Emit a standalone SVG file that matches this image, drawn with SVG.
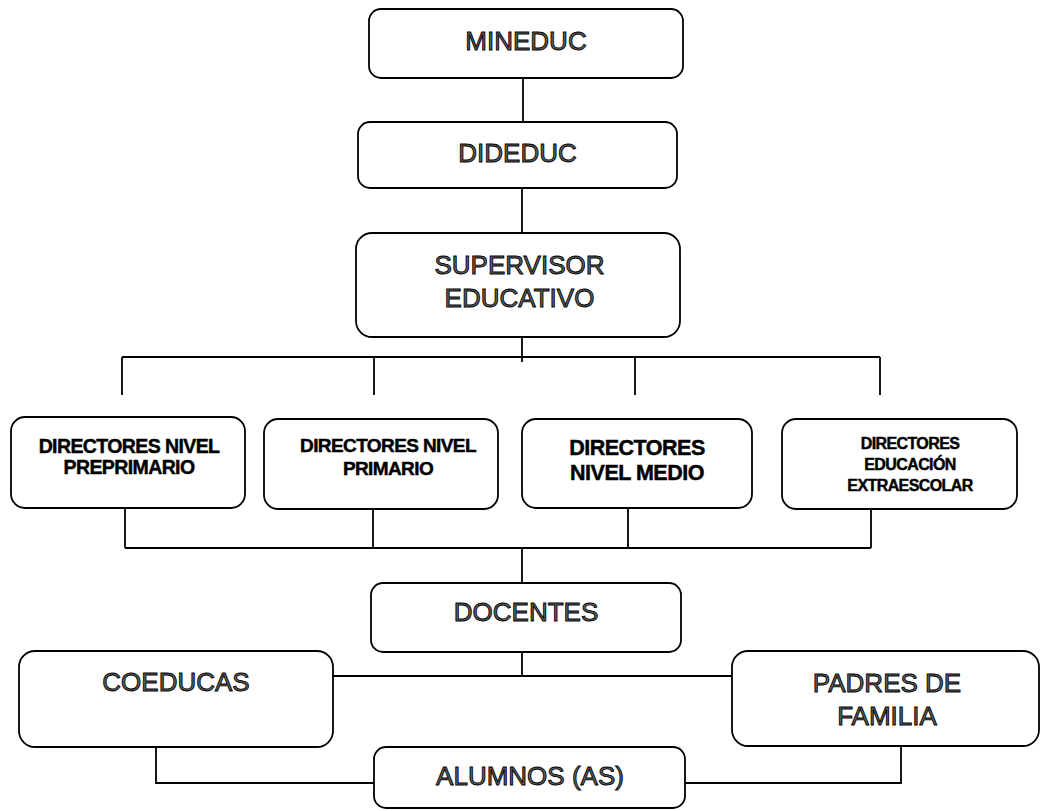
<svg xmlns="http://www.w3.org/2000/svg" width="1048" height="811" viewBox="0 0 1048 811">
<style>
.box{fill:#fff;stroke:#000;stroke-width:1.8}
.ln{fill:none;stroke:#000;stroke-width:1.8}
.ot{font-family:"Liberation Sans",Arial,sans-serif;font-size:26px;fill:#606060;stroke:#000;stroke-width:0.9;text-anchor:middle}
.bt{font-family:"Liberation Sans",Arial,sans-serif;font-weight:bold;fill:#000;stroke:#000;stroke-width:0.45;text-anchor:middle}
</style>
<rect width="1048" height="811" fill="#fff"/>
<g id="connectors">
<path class="ln" d="M523 78 V122"/>
<path class="ln" d="M522 188 V233"/>
<path class="ln" d="M522 337 V362"/>
<path class="ln" d="M122 357 H880"/>
<path class="ln" d="M122 357 V395 M374 357 V395 M635 357 V395 M880 357 V395"/>
<path class="ln" d="M125 508 V548 M373 509 V548 M628 508 V548 M871 509 V548"/>
<path class="ln" d="M125 548 H871"/>
<path class="ln" d="M522 548 V583"/>
<path class="ln" d="M522 652 V676"/>
<path class="ln" d="M333 676 H732"/>
<path class="ln" d="M156 747 V783 H374"/>
<path class="ln" d="M901 746 V783 H685"/>
</g>
<g id="mineduc">
<rect class="box" x="369" y="9" width="314" height="69" rx="12"/>
<text class="ot" x="526" y="50">MINEDUC</text>
</g>
<g id="dideduc">
<rect class="box" x="358" y="122" width="319" height="66" rx="12"/>
<text class="ot" x="517.5" y="162">DIDEDUC</text>
</g>
<g id="supervisor">
<rect class="box" x="356" y="233" width="324" height="104" rx="16"/>
<text class="ot" x="519.5" y="274">SUPERVISOR</text>
<text class="ot" x="519.5" y="307">EDUCATIVO</text>
</g>
<g id="dir-preprimario">
<rect class="box" x="11" y="417" width="234" height="91" rx="14"/>
<text class="bt" x="129" y="453" font-size="19.5" letter-spacing="-0.6">DIRECTORES NIVEL</text>
<text class="bt" x="129" y="474" font-size="19.5" letter-spacing="-0.6">PREPRIMARIO</text>
</g>
<g id="dir-primario">
<rect class="box" x="264" y="419" width="234" height="90" rx="14"/>
<text class="bt" x="388" y="452" font-size="19" letter-spacing="-0.6">DIRECTORES NIVEL</text>
<text class="bt" x="388" y="475" font-size="19" letter-spacing="-0.6">PRIMARIO</text>
</g>
<g id="dir-medio">
<rect class="box" x="522" y="419" width="230" height="89" rx="14"/>
<text class="bt" x="637" y="455" font-size="21.5" letter-spacing="-0.5">DIRECTORES</text>
<text class="bt" x="637" y="480" font-size="21.5" letter-spacing="-0.5">NIVEL MEDIO</text>
</g>
<g id="dir-extraescolar">
<rect class="box" x="782" y="419" width="235" height="90" rx="14"/>
<text class="bt" x="910" y="449" font-size="16" letter-spacing="-0.6">DIRECTORES</text>
<text class="bt" x="910" y="470" font-size="16" letter-spacing="-0.6">EDUCACIÓN</text>
<text class="bt" x="910" y="491" font-size="16" letter-spacing="-0.6">EXTRAESCOLAR</text>
</g>
<g id="docentes">
<rect class="box" x="371" y="583" width="310" height="69" rx="12"/>
<text class="ot" x="526" y="621">DOCENTES</text>
</g>
<g id="coeducas">
<rect class="box" x="19" y="651" width="314" height="96" rx="16"/>
<text class="ot" x="176" y="691">COEDUCAS</text>
</g>
<g id="padres">
<rect class="box" x="732" y="651" width="307" height="95" rx="16"/>
<text class="ot" x="887" y="692">PADRES DE</text>
<text class="ot" x="887" y="725">FAMILIA</text>
</g>
<g id="alumnos">
<rect class="box" x="374" y="747" width="311" height="61" rx="12"/>
<text class="ot" x="530" y="785">ALUMNOS (AS)</text>
</g>
</svg>
